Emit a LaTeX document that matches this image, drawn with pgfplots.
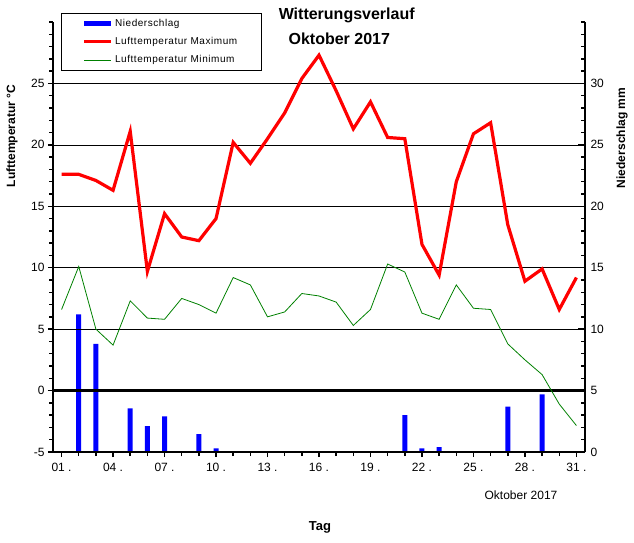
\documentclass[border=0pt]{standalone}
\usepackage{pgfplots}
\pgfplotsset{compat=1.18}
\usepackage{fontspec}
\setmainfont{Liberation Sans}
\newfontfamily\legfont[LetterSpace=5.5]{Liberation Sans}
\definecolor{dgreen}{RGB}{0,128,0}
\pgfplotstableread{
day tmax tmin
1 17.6 6.6
2 17.6 10.1
3 17.1 5.0
4 16.3 3.7
5 21.1 7.3
6 9.7 5.9
7 14.4 5.8
8 12.5 7.5
9 12.2 7.0
10 14.0 6.3
11 20.2 9.2
12 18.5 8.6
13 20.5 6.0
14 22.6 6.4
15 25.4 7.9
16 27.3 7.7
17 24.4 7.2
18 21.3 5.3
19 23.5 6.6
20 20.6 10.3
21 20.5 9.65
22 11.9 6.3
23 9.4 5.8
24 17.0 8.6
25 20.9 6.7
26 21.8 6.6
27 13.5 3.8
28 8.9 2.5
29 9.9 1.3
30 6.6 -1.1
31 9.2 -2.85
}\temps
\pgfplotstableread{
day rain
2 11.2
3 8.8
5 3.55
6 2.1
7 2.9
9 1.45
10 0.3
21 3.0
22 0.3
23 0.4
27 3.7
29 4.7
}\rain
\begin{document}
\begin{tikzpicture}[x=1pt,y=1pt]
\useasboundingbox (0,0) rectangle (634,543);
% precipitation axis (right)
\begin{axis}[
  at={(53pt,91pt)}, anchor=south west,
  scale only axis, width=532pt, height=430pt,
  xmin=0.5, xmax=31.5, ymin=0, ymax=35,
  axis x line=none, axis y line*=right,
  y axis line style={line width=2.5pt},
  ytick={0,5,...,30}, minor ytick={0,1,...,35},
  tick align=inside,
  major tick length=7pt, minor tick length=4pt,
  every tick/.style={black, line width=1.5pt},
  /pgf/number format/assume math mode=true,
  yticklabel style={font=\fontsize{12}{14}\selectfont, xshift=2pt},
  ybar, bar width=5pt,
]
\addplot[fill=blue, draw=none] table[x=day, y=rain] {\rain};
\end{axis}
% temperature axis (left)
\begin{axis}[
  at={(53pt,91pt)}, anchor=south west,
  scale only axis, width=532pt, height=430pt,
  xmin=0.5, xmax=31.5, ymin=-5, ymax=30,
  axis x line*=bottom, axis y line*=left,
  axis line style={line width=2.5pt},
  ytick={-5,0,...,25}, minor ytick={-5,-4,...,30},
  xtick={1,4,...,31}, minor xtick={1,2,...,31},
  xticklabels={{01 .},{04 .},{07 .},{10 .},{13 .},{16 .},{19 .},{22 .},{25 .},{28 .},{31 .}},
  tick align=outside,
  major tick length=5pt, minor tick length=4pt,
  every tick/.style={black, line width=1.5pt},
  ymajorgrids, major grid style={black, line width=0.7pt},
  extra y ticks={0}, extra y tick labels={},
  extra y tick style={major grid style={black, line width=2.6pt}},
  /pgf/number format/assume math mode=true,
  tick label style={font=\fontsize{12}{14}\selectfont},
  xticklabel style={yshift=-3pt},
  legend style={at={(0.0145,1.0209)}, anchor=north west,
    draw=black, line width=0.8pt, inner xsep=0pt, inner ysep=1pt,
    row sep=0pt, column sep=0pt,
    font=\legfont\fontsize{10}{12}\selectfont,
    nodes={inner xsep=1.5pt, inner ysep=0pt, text height=7.5pt, text depth=2pt, minimum height=18.3pt}},
  legend cell align=left,
  legend image code/.code={\path[draw=none,fill=none] (-23pt,-2pt) rectangle (27pt,2pt); \draw (0pt,0pt) -- (27pt,0pt);},
]
\addlegendimage{blue, line width=5pt}
\addlegendentry{\makebox[145pt][l]{Niederschlag}}
\addplot[red, line width=3.2pt] table[x=day, y=tmax] {\temps};
\addlegendentry{Lufttemperatur Maximum}
\addplot[dgreen, line width=0.8pt] table[x=day, y=tmin] {\temps};
\addlegendentry{Lufttemperatur Minimum}
\end{axis}
\node[font=\bfseries\fontsize{16}{18}\selectfont] at (346.7,528) {Witterungsverlauf};
\node[font=\bfseries\fontsize{16}{18}\selectfont] at (339.3,504.7) {Oktober 2017};
\node[font=\fontsize{12}{14}\selectfont] at (521,48) {Oktober 2017};
\node[font=\bfseries\fontsize{13}{15}\selectfont] at (320,16) {Tag};
\node[font=\bfseries\fontsize{12}{14}\selectfont, rotate=90] at (12,407) {Lufttemperatur °C};
\node[font=\bfseries\fontsize{12}{14}\selectfont, rotate=90] at (622,405) {Niederschlag mm};
\end{tikzpicture}
\end{document}
